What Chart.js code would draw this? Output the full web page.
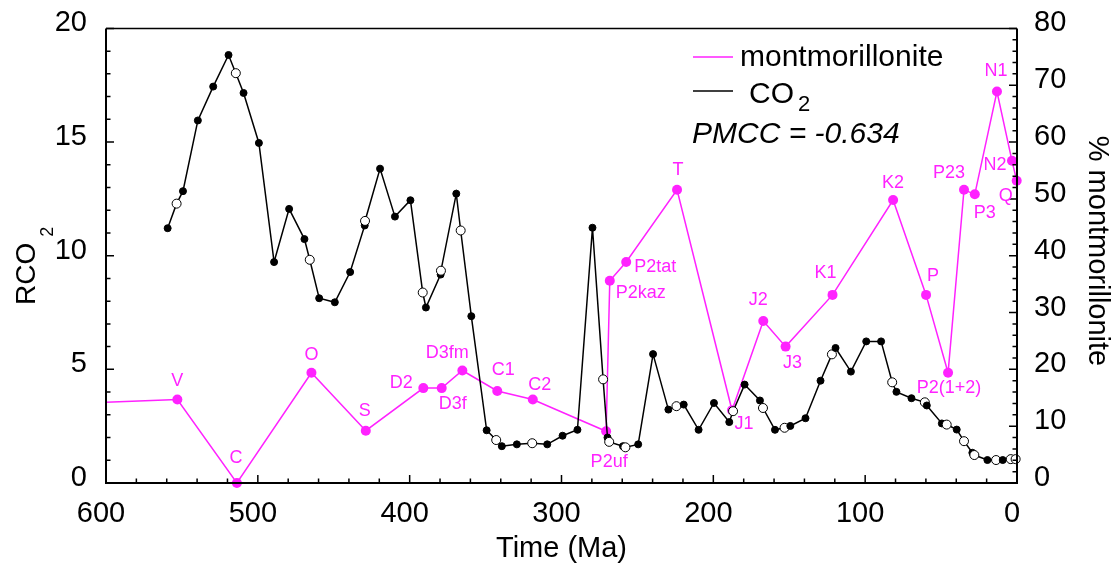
<!DOCTYPE html>
<html>
<head>
<meta charset="utf-8">
<script src="https://cdn.jsdelivr.net/npm/chart.js@4.4.1/dist/chart.umd.min.js"></script>
<style>
  html, body { margin: 0; padding: 0; background: #fff; }
  canvas { display: block; }
</style>
</head>
<body>
<canvas id="chart" width="1116" height="567"></canvas>
<script>
// CO2 series (Ma, RCO2), open = 1 for hollow markers
const co2Age = [559.4, 553.5, 549.3, 539.5, 529.4, 519.3, 514.5, 509.4, 499.3, 489.3,
  479.4, 469.3, 465.8, 459.6, 449.3, 439.2, 429.6, 429.4, 419.5, 409.7,
  399.5, 391.4, 389.3, 379.6, 379.4, 369.3, 366.4, 359.4, 349.3, 343.0,
  339.3, 329.4, 319.3, 309.4, 299.3, 289.5, 279.6, 272.6, 269.7, 268.6,
  259.5, 257.9, 249.5, 239.7, 229.6, 224.3, 219.5, 209.7, 199.6, 189.5,
  187.0, 179.4, 169.3, 167.3, 159.4, 153.1, 149.3, 139.3, 129.4, 121.9,
  119.5, 109.4, 99.3, 89.5, 82.2, 79.4, 69.5, 60.7, 59.4, 49.5,
  46.3, 39.7, 34.9, 29.4, 28.1, 19.5, 13.8, 9.4, 4.1, 0.9];
const co2Value = [11.21, 12.29, 12.84, 15.95, 17.44, 18.83, 18.03, 17.16, 14.96, 9.72,
  12.06, 10.73, 9.82, 8.13, 7.95, 9.28, 11.33, 11.53, 13.83, 11.72,
  12.44, 8.38, 7.72, 9.17, 9.34, 12.73, 11.11, 7.34, 2.32, 1.89,
  1.62, 1.70, 1.75, 1.70, 2.08, 2.34, 11.23, 4.56, 2.00, 1.81,
  1.62, 1.57, 1.70, 5.67, 3.23, 3.38, 3.45, 2.34, 3.52, 2.68,
  3.16, 4.33, 3.63, 3.30, 2.34, 2.43, 2.51, 2.85, 4.50, 5.66,
  5.94, 4.90, 6.23, 6.23, 4.43, 4.01, 3.73, 3.55, 3.41, 2.62,
  2.57, 2.35, 1.84, 1.33, 1.23, 1.01, 1.01, 1.01, 1.05, 1.05];
const co2Open = [0, 1, 0, 0, 0, 0, 1, 0, 0, 0,
  0, 0, 1, 0, 0, 0, 0, 1, 0, 0,
  0, 1, 0, 0, 1, 0, 1, 0, 0, 1,
  0, 0, 1, 0, 0, 0, 0, 1, 0, 1,
  0, 1, 0, 0, 0, 1, 0, 0, 0, 0,
  1, 0, 0, 1, 0, 1, 0, 0, 0, 1,
  0, 0, 0, 0, 1, 0, 0, 1, 0, 0,
  1, 0, 1, 0, 1, 0, 1, 0, 1, 1];

// montmorillonite series (Ma, %)
const montAge = [600, 553, 513.8, 464.7, 428.9, 391, 378.9, 365.3, 342.3, 318.9,
  270.6, 268.2, 257.4, 223.9, 187.7, 167.1, 152.4, 121.5, 81.6, 59.9,
  45.4, 34.9, 27.8, 13.2, 3.3, 0.2];
const montValue = [14.2, 14.7, 0, 19.4, 9.2, 16.7, 16.7, 19.8, 16.2, 14.7,
  9.1, 35.6, 38.9, 51.6, 12.8, 28.5, 24.0, 33.1, 49.8, 33.1,
  19.4, 51.6, 50.8, 68.9, 56.7, 53.2];
const montLabel = ["", "V", "C", "O", "S", "D2", "D3f", "D3fm", "C1", "C2",
  "P2uf", "P2kaz", "P2tat", "T", "J1", "J2", "J3", "K1", "K2", "P",
  "P2(1+2)", "P23", "P3", "N1", "N2", "Q"];

// where each label sits relative to its point (px)
const labelShift = [[0, 0], [0, -18], [-1, -25], [0, -18], [-1, -20], [-22, -5], [11, 16], [-15, -17], [6, -21], [7, -14],
  [3, 31], [31, 12], [29, 5], [1, -20], [12, 14], [-5, -21], [7, 16], [-7, -22], [0, -17], [7, -19],
  [1, 15], [-15, -17], [10, 19], [-1, -20], [-17, 4], [-11, 15]];

const FONT = '"Liberation Sans", Arial, Helvetica, sans-serif';
const MAGENTA = "#ff22ff";

Chart.defaults.color = "#000";
Chart.defaults.font.family = FONT;

function drawTicks(ctx, scale, step, major, fn) {
  for (let v = scale.min; v <= scale.max + 1e-9; v += step) {
    const p = scale.getPixelForValue(v);
    const r = v / major;
    const isMajor = Math.abs(r - Math.round(r)) < 1e-6;
    fn(p, isMajor ? 8 : 4.5);
  }
}

const decor = {
  id: "decor",
  afterDatasetsDraw(chart) {
    const { ctx, chartArea: a, scales } = chart;
    ctx.save();

    // frame
    ctx.strokeStyle = "#000";
    ctx.lineWidth = 2;
    ctx.beginPath();
    ctx.moveTo(a.left, a.top);
    ctx.lineTo(a.left, a.bottom);
    ctx.lineTo(a.right, a.bottom);
    ctx.lineTo(a.right, a.top);
    ctx.stroke();
    ctx.lineWidth = 1.5;
    ctx.beginPath();
    ctx.moveTo(a.left, a.top);
    ctx.lineTo(a.right, a.top);
    ctx.stroke();

    // inward tick marks
    ctx.lineWidth = 1.5;
    ctx.beginPath();
    drawTicks(ctx, scales.x, 20, 100, (p, len) => { ctx.moveTo(p, a.bottom); ctx.lineTo(p, a.bottom - len); });
    drawTicks(ctx, scales.y, 1, 5, (p, len) => { ctx.moveTo(a.left, p); ctx.lineTo(a.left + len, p); });
    drawTicks(ctx, scales.y2, 2, 10, (p, len) => { ctx.moveTo(a.right, p); ctx.lineTo(a.right - len, p); });
    ctx.stroke();

    // point labels
    const meta = chart.getDatasetMeta(0);
    ctx.fillStyle = MAGENTA;
    ctx.font = "18px " + FONT;
    ctx.textAlign = "center";
    ctx.textBaseline = "middle";
    meta.data.forEach((pt, i) => {
      if (!montLabel[i]) return;
      ctx.fillText(montLabel[i], pt.x + labelShift[i][0], pt.y + labelShift[i][1]);
    });

    // axis titles
    ctx.fillStyle = "#000";
    ctx.font = "29px " + FONT;
    ctx.textAlign = "center";
    ctx.textBaseline = "alphabetic";
    ctx.fillText("Time (Ma)", (a.left + a.right) / 2, 557);

    ctx.save();
    ctx.translate(35, 305);
    ctx.rotate(-Math.PI / 2);
    ctx.textAlign = "left";
    ctx.font = "28px " + FONT;
    ctx.fillText("RCO", 0, 0);
    const w = ctx.measureText("RCO").width;
    ctx.font = "18px " + FONT;
    ctx.fillText("2", w + 6, 18);
    ctx.restore();

    ctx.save();
    ctx.translate(1089, 251);
    ctx.rotate(Math.PI / 2);
    ctx.font = "29px " + FONT;
    ctx.textAlign = "center";
    ctx.fillText("% montmorillonite", 0, 0);
    ctx.restore();

    // legend
    ctx.lineWidth = 1.5;
    ctx.strokeStyle = MAGENTA;
    ctx.beginPath(); ctx.moveTo(693, 57); ctx.lineTo(733, 57); ctx.stroke();
    ctx.strokeStyle = "#000";
    ctx.beginPath(); ctx.moveTo(693, 91); ctx.lineTo(733, 91); ctx.stroke();
    ctx.textAlign = "left";
    ctx.font = "30px " + FONT;
    ctx.fillText("montmorillonite", 740, 66);
    ctx.fillText("CO", 749, 103);
    const cw = ctx.measureText("CO").width;
    ctx.font = "22px " + FONT;
    ctx.fillText("2", 749 + cw + 4, 111);

    ctx.font = "italic 30px " + FONT;
    ctx.fillText("PMCC = -0.634", 692, 143);

    ctx.restore();
  }
};

new Chart(document.getElementById("chart"), {
  type: "line",
  data: {
    datasets: [
      {
        label: "montmorillonite",
        data: montAge.map((t, i) => ({ x: t, y: montValue[i] })),
        yAxisID: "y2",
        order: 1,
        borderColor: MAGENTA,
        borderWidth: 1.5,
        backgroundColor: MAGENTA,
        pointBackgroundColor: MAGENTA,
        pointBorderColor: MAGENTA,
        pointBorderWidth: 0,
        pointRadius: montLabel.map((l) => (l ? 5 : 0)),
        tension: 0,
        clip: false,
      },
      {
        label: "CO2",
        data: co2Age.map((t, i) => ({ x: t, y: co2Value[i] })),
        yAxisID: "y",
        order: 0,
        borderColor: "#000",
        borderWidth: 1.5,
        pointBackgroundColor: co2Open.map((o) => (o ? "#fff" : "#000")),
        pointBorderColor: "#000",
        pointBorderWidth: 1,
        pointRadius: co2Open.map((o) => (o ? 4.5 : 3.5)),
        tension: 0,
        clip: false,
      },
    ],
  },
  options: {
    responsive: false,
    animation: false,
    layout: { padding: { top: 28 } },
    plugins: { legend: { display: false }, tooltip: { enabled: false } },
    scales: {
      x: {
        type: "linear",
        reverse: true,
        min: 0,
        max: 600,
        grid: { display: false },
        border: { display: false },
        ticks: { stepSize: 100, font: { size: 29 }, padding: 6, labelOffset: -5, maxRotation: 0 },
        afterFit(s) { s.height = 84; },
      },
      y: {
        position: "left",
        min: 0,
        max: 20,
        grid: { display: false },
        border: { display: false },
        ticks: { stepSize: 5, font: { size: 29 }, padding: 11, labelOffset: -5 },
        afterFit(s) { s.width = 106; },
      },
      y2: {
        position: "right",
        min: 0,
        max: 80,
        grid: { display: false },
        border: { display: false },
        ticks: { stepSize: 10, font: { size: 29 }, padding: 9, labelOffset: -5 },
        afterFit(s) { s.width = 99; },
      },
    },
  },
  plugins: [decor],
});
</script>
</body>
</html>
